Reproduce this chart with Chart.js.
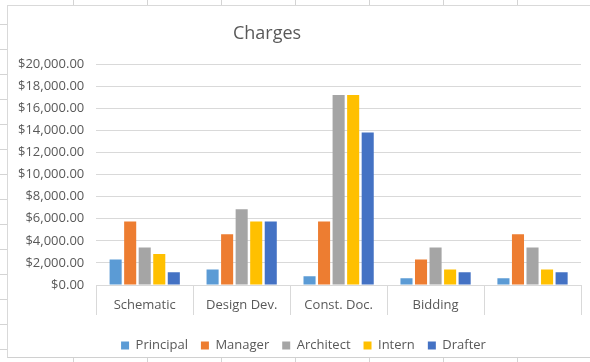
<!DOCTYPE html>
<html>
<head>
<meta charset="utf-8">
<script src="https://cdn.jsdelivr.net/npm/chart.js@4"></script>
<style>
    html, body { margin: 0; padding: 0; background: #fff; }
    body { width: 590px; height: 362px; position: relative; overflow: hidden; }
    /* spreadsheet cells around the chart */
    .sheet {
        position: absolute; left: 0; top: 0; width: 590px; height: 362px;
        background-color: #fff;
        background-image:
            repeating-linear-gradient(to right, transparent 0, transparent 73px, #d4d4d4 73px, #d4d4d4 74px),
            repeating-linear-gradient(to bottom, transparent 0, transparent 24px, #d4d4d4 24px, #d4d4d4 25px);
    }
    .chartBox {
        position: absolute; left: 7px; top: 5px; width: 583px; height: 353px;
        background: #fff; border-top: 1px solid #d9d9d9; border-left: 1px solid #d9d9d9; border-bottom: 1px solid #d0d0d0;
        box-sizing: border-box;
    }
</style>
</head>
<body>
<div class="sheet"></div>
<div class="chartBox"><canvas id="chargesChart"></canvas></div>
<script>
// 카테고리와 시리즈 값
const categories = ['Schematic', 'Design Dev.', 'Const. Doc.', 'Bidding', ''];
const seriesNames = ['Principal', 'Manager', 'Architect', 'Intern', 'Drafter'];
const principal = [2300, 1400, 800, 600, 600];
const manager = [5750, 4600, 5750, 2300, 4600];
const architect = [3400, 6850, 17200, 3400, 3400];
const intern = [2800, 5750, 17200, 1400, 1400];
const drafter = [1150, 5750, 13800, 1150, 1150];
const yTicks = [0, 2000, 4000, 6000, 8000, 10000, 12000, 14000, 16000, 18000, 20000];

const colors = ['#5b9bd5', '#ed7d31', '#a5a5a5', '#ffc000', '#4472c4'];
const seriesValues = [principal, manager, architect, intern, drafter];
const fontFamily = '"Open Sans", "DejaVu Sans", sans-serif';
const textColor = '#595959';
const lineColor = '#d9d9d9';

// 제목은 차트 중앙보다 조금 왼쪽에 있어서 직접 그림
const titlePlugin = {
    id: 'titleText',
    afterDraw(chart) {
        const ctx = chart.ctx;
        ctx.save();
        ctx.font = '18px ' + fontFamily;
        ctx.fillStyle = textColor;
        ctx.textAlign = 'center';
        ctx.textBaseline = 'middle';
        ctx.fillText('Charges', 259, 28);
        ctx.restore();
    }
};

// 범례가 플롯 중앙 쪽으로 약간 오른쪽에 있음
const legendShift = {
    id: 'legendShift',
    afterLayout(chart) {
        if (!chart.legend) return;
        chart.legend.left += 10;
        chart.legend.right += 10;
    }
};

// 엑셀처럼 카테고리 사이 구분선을 축 아래로 그림
const categoryLines = {
    id: 'categoryLines',
    afterDraw(chart) {
        const x = chart.scales.x;
        const step = x.width / categories.length;
        const ctx = chart.ctx;
        ctx.save();
        ctx.strokeStyle = lineColor;
        ctx.lineWidth = 1;
        ctx.beginPath();
        for (let i = 0; i <= categories.length; i++) {
            const px = Math.round(x.getPixelForValue(0) - step / 2 + i * step) + 0.5;
            ctx.moveTo(px, x.top);
            ctx.lineTo(px, x.top + 30);
        }
        ctx.stroke();
        ctx.restore();
    }
};

new Chart(document.getElementById('chargesChart'), {
    type: 'bar',
    data: {
        labels: categories,
        datasets: seriesNames.map((name, i) => ({
            label: name,
            data: seriesValues[i],
            backgroundColor: colors[i],
            categoryPercentage: 0.75,
            barPercentage: 0.83
        }))
    },
    options: {
        responsive: true,
        maintainAspectRatio: false,
        animation: false,
        layout: { padding: { left: -2, right: 9, top: 58, bottom: -5 } },
        plugins: {
            title: { display: false },
            tooltip: { enabled: false },
            legend: {
                position: 'bottom',
                labels: {
                    boxWidth: 8, boxHeight: 8, padding: 13,
                    color: textColor,
                    font: { family: fontFamily, size: 13 }
                }
            }
        },
        scales: {
            x: {
                grid: { display: false },
                border: { display: true, color: lineColor },
                afterFit(axis) { axis.height = 41; },
                ticks: { color: textColor, padding: 4, font: { family: fontFamily, size: 13 } }
            },
            y: {
                min: 0, max: 20000,
                afterBuildTicks(axis) { axis.ticks = yTicks.map(v => ({ value: v })); },
                grid: { color: lineColor, drawTicks: false },
                border: { display: false },
                ticks: {
                    color: textColor, padding: 12,
                    font: { family: fontFamily, size: 13 },
                    callback: v => '$' + v.toLocaleString('en-US', { minimumFractionDigits: 2, maximumFractionDigits: 2 })
                }
            }
        }
    },
    plugins: [titlePlugin, legendShift, categoryLines]
});
</script>
</body>
</html>
